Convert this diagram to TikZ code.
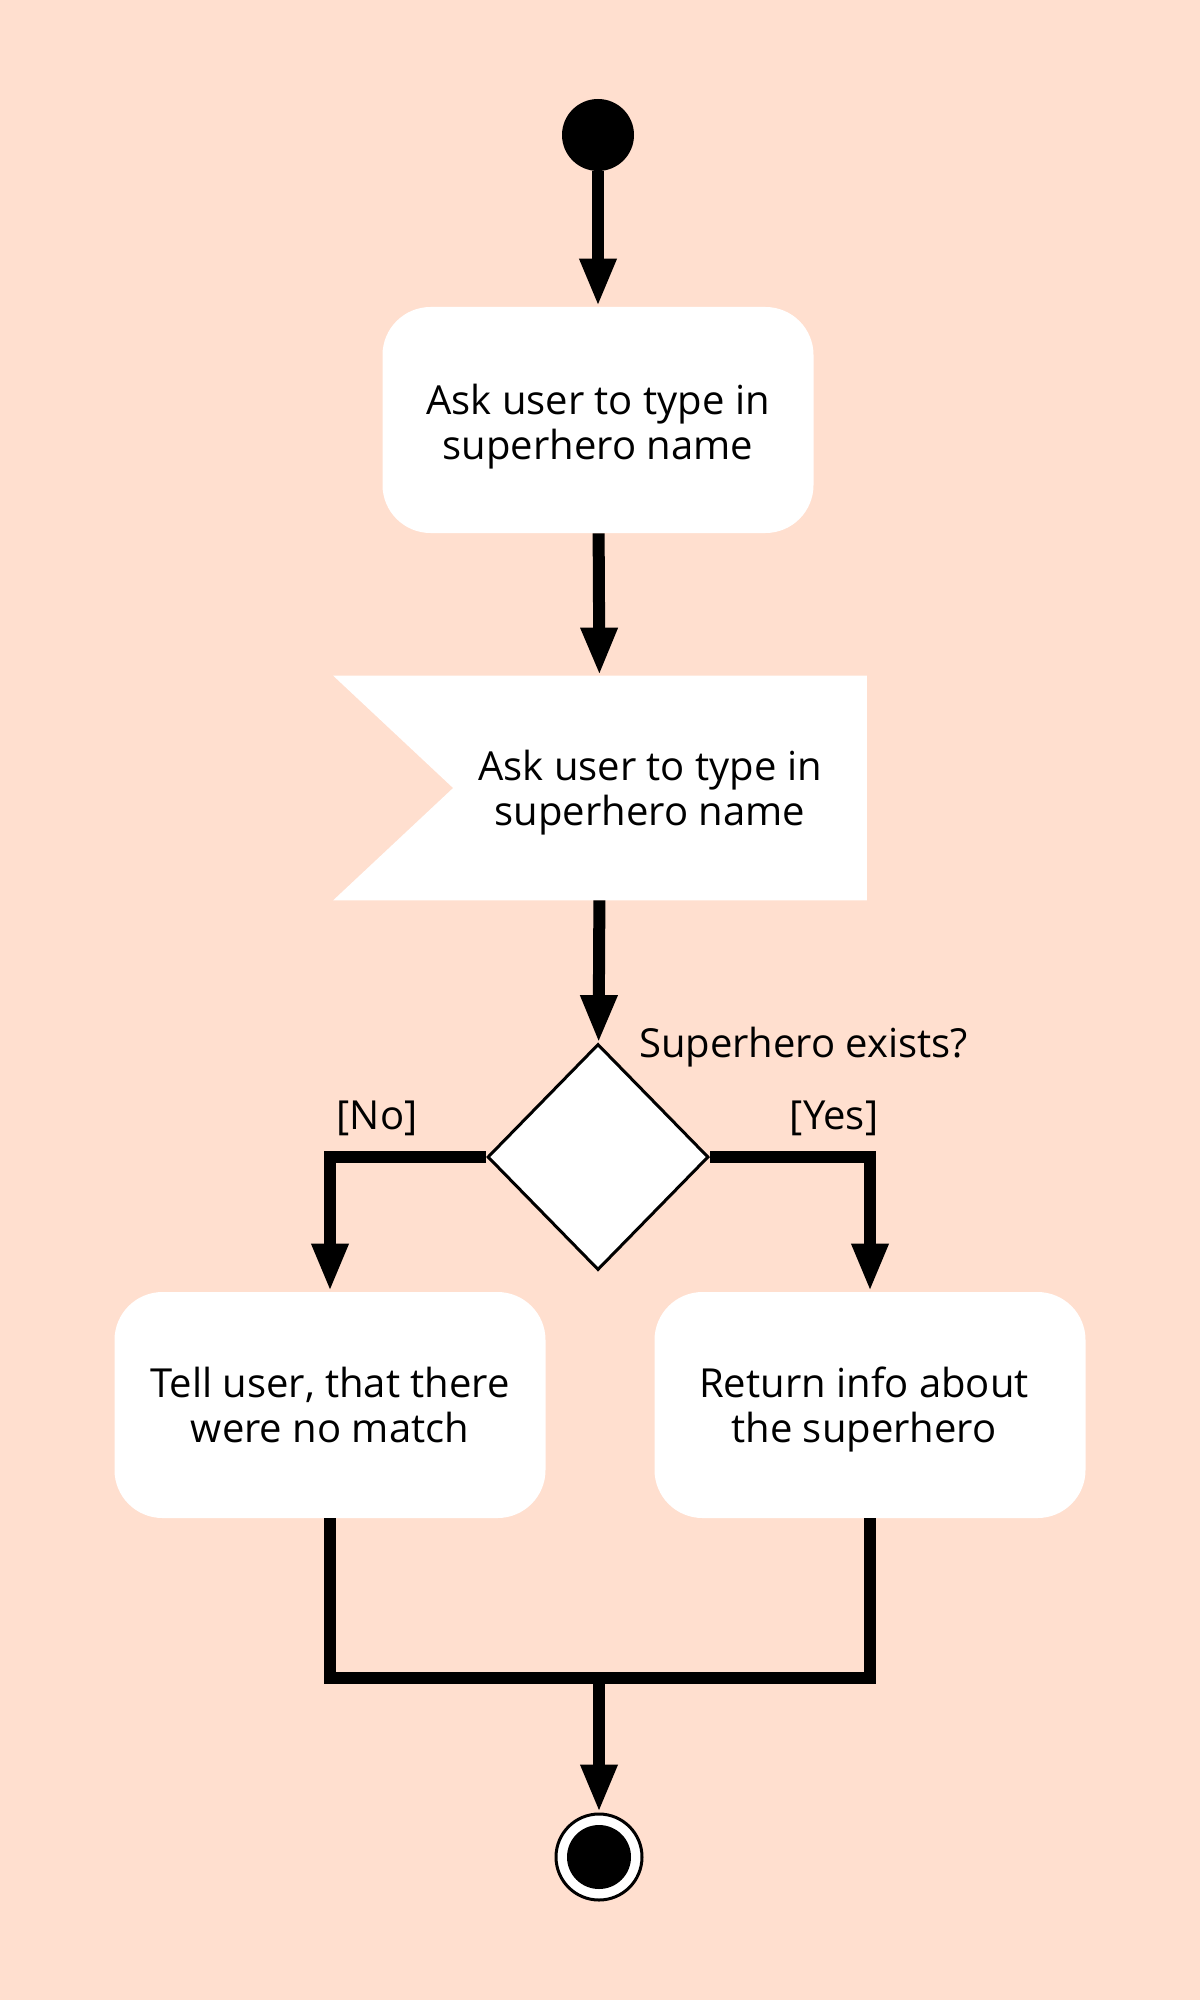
\documentclass[tikz,border=0pt]{standalone}
\usepackage{fontspec}
\setmainfont{Open Sans}
\usetikzlibrary{arrows.meta, shapes.geometric, positioning, calc}
\definecolor{peach}{HTML}{FFDFCF}

\tikzset{
  txt/.style={font=\fontsize{20}{22.5}\selectfont, align=center},
  lbl/.style={txt, execute at begin node={\rule{0pt}{20pt}}},
  act/.style={rectangle, rounded corners=24pt, fill=white, minimum width=215.5pt, minimum height=113pt, inner sep=0pt},
  flow/.style={line width=6pt, -{Triangle[width=17pt,length=24pt]}},
  mergeline/.style={line width=6pt},
}

\begin{document}
\begin{tikzpicture}[x=0.5pt, y=-0.5pt]

% Background
\fill[peach] (0,0) rectangle (1200,2000);

% Start
\node[circle, fill=black, minimum size=36pt, inner sep=0pt] (start) at (598,135) {};

% Ask for the name
\node[act] (ask) at (598,420) {};
\node[txt] (asktxt) at ([yshift=-3.2pt]ask.center) {Ask user to type in\\superhero name};

% Receive signal (flag)
\node[rectangle, minimum width=266.5pt, minimum height=112pt, inner sep=0pt] (recv) at (600,788) {};
\fill[white] (recv.north west) -- (recv.north east) -- (recv.south east) -- (recv.south west)
    -- ($(recv.west)+(120,0)$) -- cycle;
\node[txt] (recvtxt) at ([xshift=25pt, yshift=-2.5pt]recv.center) {Ask user to type in\\superhero name};

% Decision
\node[diamond, draw=black, line width=1.5pt, fill=white, minimum width=110.5pt, minimum height=113pt, inner sep=0pt] (dec) at (598,1157) {};
\node[lbl, anchor=west] (ques) at ([xshift=17pt]dec.north) {Superhero exists?};

% Outcomes
\node[act] (nomatch) at (330,1405) {};
\node[txt] (nomatchtxt) at (nomatch) {Tell user, that there\\were no match};
\node[act] (info) at (870,1405) {};
\node[txt] (infotxt) at ([xshift=-3pt, yshift=-2pt]info.center) {Return info about\\the superhero};
\node[lbl] (nolbl) at (377,1113) {[No]};
\node[lbl] (yeslbl) at (834,1113) {[Yes]};

% End
\node[circle, draw=black, line width=1.5pt, fill=white, minimum size=43pt, inner sep=0pt] (end) at (599,1857) {};
\node[circle, fill=black, minimum size=32pt, inner sep=0pt] (enddot) at (end) {};
\coordinate (merge) at (599,1678);

% Flows
\draw[flow] (start) -- (ask);
\draw[flow] (ask) -- (recv);
\draw[flow] (recv) -- (dec);
\draw[flow] (dec.west) -| (nomatch.north);
\draw[flow] (dec.east) -| (info.north);
\draw[mergeline] (nomatch.south) |- (merge) -| (info.south);
\draw[flow] (merge) -- (end);

\end{tikzpicture}
\end{document}
